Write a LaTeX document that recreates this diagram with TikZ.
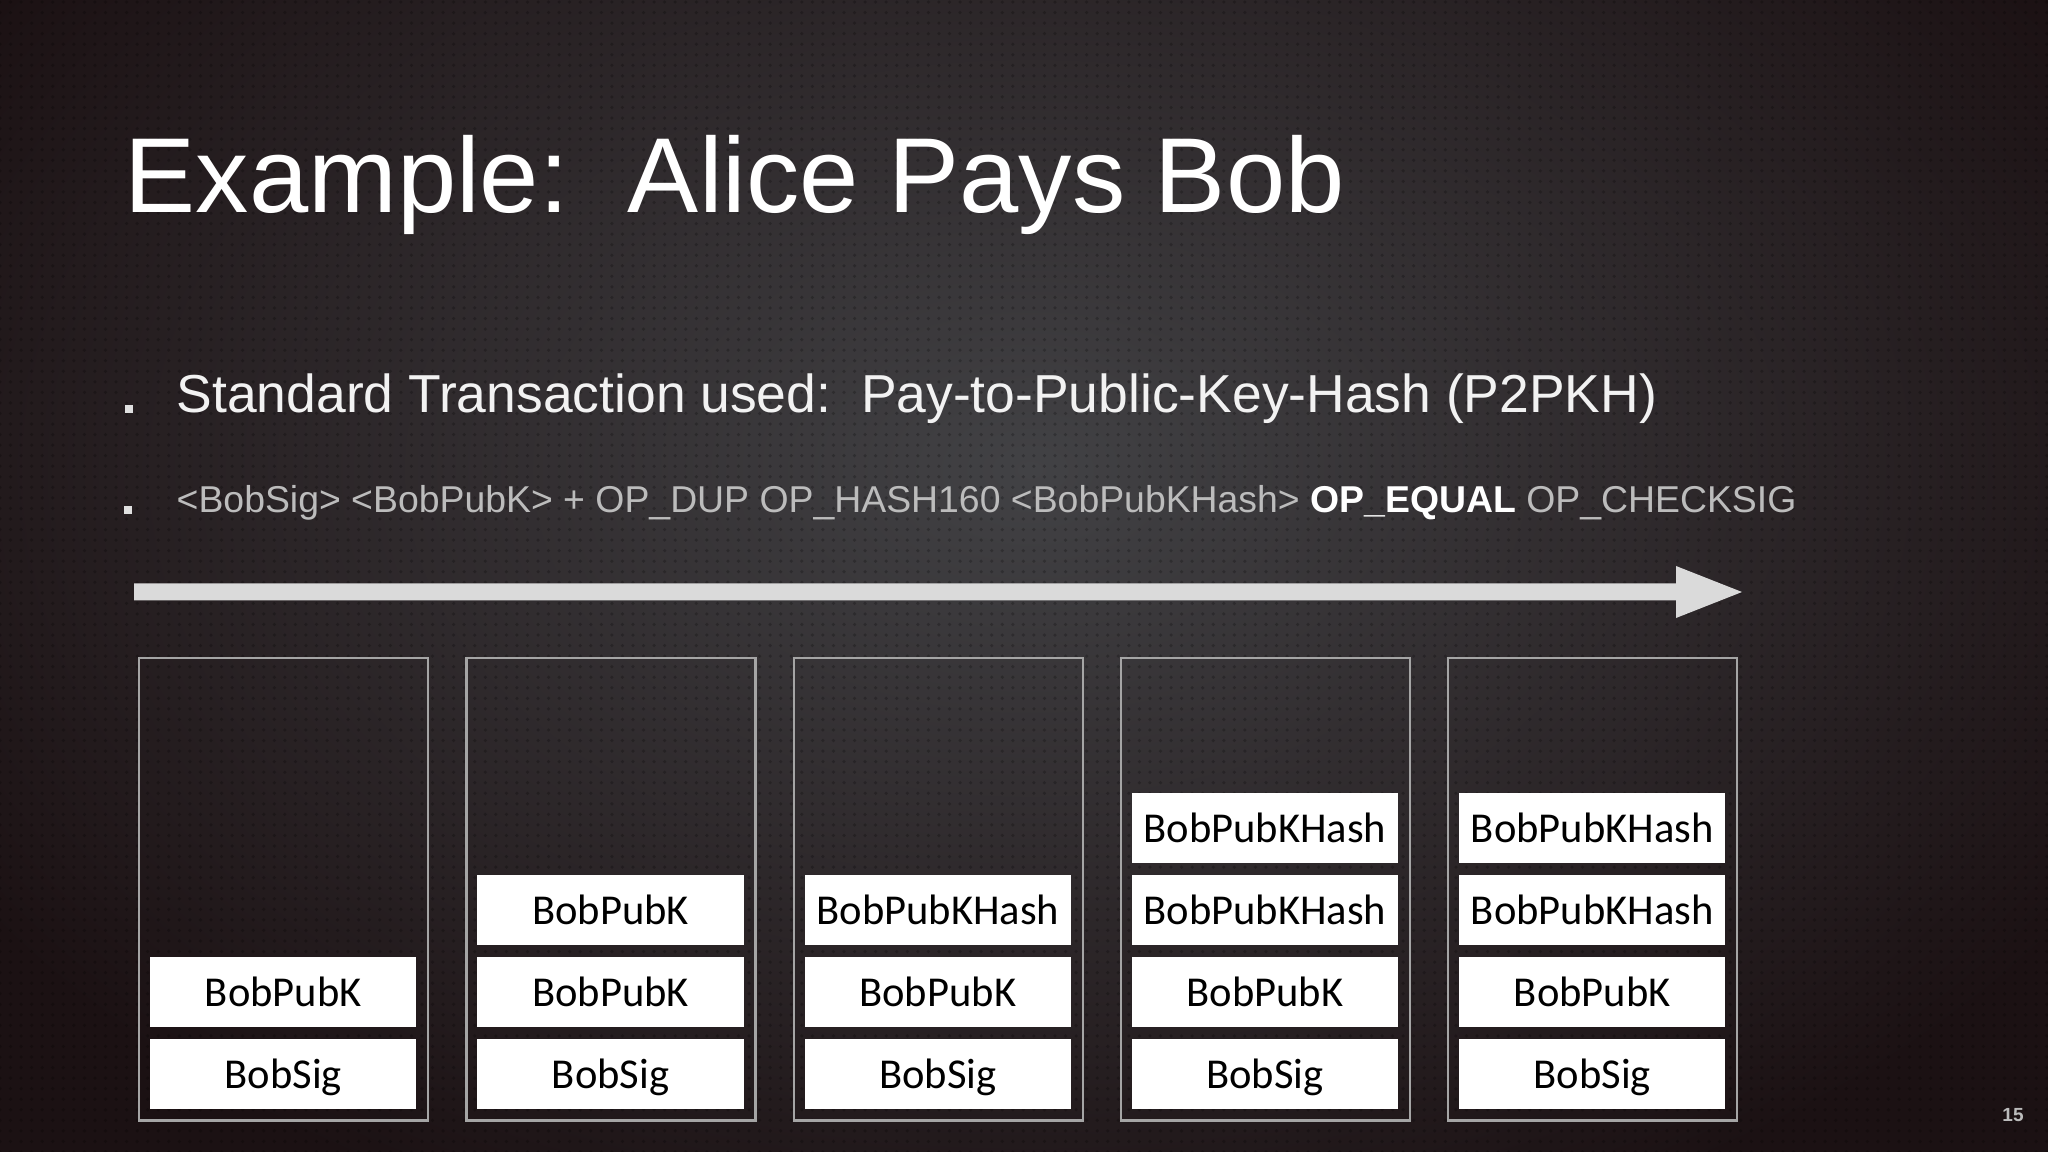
\documentclass[tikz,border=0pt]{standalone}
\usepackage{fontspec}
\setmainfont{Liberation Sans}
\newfontfamily\calib{Carlito}
\usetikzlibrary{patterns}
\definecolor{bgdark}{RGB}{27,17,19}
\definecolor{bglight}{RGB}{66,66,69}
\definecolor{arrowgray}{RGB}{218,218,218}
\definecolor{codegray}{RGB}{188,188,188}
\definecolor{framegray}{RGB}{165,165,165}
\begin{document}
\begin{tikzpicture}[x=0.01cm,y=-0.01cm,
  stackframe/.style={draw=framegray, line width=0.65pt, minimum width=2.89cm, minimum height=4.62cm, inner sep=0pt, anchor=north west},
  cell/.style={fill=white, minimum width=2.66cm, minimum height=0.70cm, inner sep=0pt, anchor=north west,
    font=\calib\fontsize{12.1}{13}\selectfont, text=black, text height=0.95em, text depth=0.12em},
  bulletmark/.style={fill=white!88!black, minimum size=0.075cm, inner sep=0pt}]
\useasboundingbox (0,0) rectangle (2048,1152);
% background
\fill[bgdark] (0,0) rectangle (2048,1152);
\begin{scope}
  \clip (0,0) rectangle (2048,1152);
  \shade[inner color=bglight, outer color=bgdark] (1030,470) ellipse [x radius=12.5cm, y radius=8.2cm];
  \fill[pattern=dots, pattern color=black, opacity=0.22] (0,0) rectangle (2048,1152);
\end{scope}
% title
\node[anchor=base west, inner sep=0pt, font=\fontsize{30.3}{32}\selectfont, text=white] (title) at (124,213) {Example:~~Alice Pays Bob};
% bullets
\node[bulletmark] (bul1) at (129,409) {};
\node[anchor=base west, inner sep=0pt, font=\fontsize{15.2}{17}\selectfont, text=white!95!black] (line1) at (176,413) {Standard Transaction used:~~Pay-to-Public-Key-Hash (P2PKH)};
\node[bulletmark] (bul2) at (128,510) {};
\node[anchor=base west, inner sep=0pt, font=\fontsize{10.63}{12}\selectfont, text=codegray] (line2) at (176,513) {<BobSig> <BobPubK> + OP\_DUP OP\_HASH160 <BobPubKHash> \textcolor{white}{\bfseries OP\_EQUAL} OP\_CHECKSIG};
% timeline arrow
\fill[arrowgray] (134,583.5) -- (1676,583.5) -- (1676,566) -- (1742,592) -- (1676,618) -- (1676,600.5) -- (134,600.5) -- cycle;
% stack frames and cells
\foreach \i/\L in {1/138,2/465.25,3/792.5,4/1119.75,5/1447}{
  \node[stackframe] (f\i) at (\L,657) {};
  \node[cell] (sig\i) at (\L+11.5,1038) {BobSig};
  \node[cell] (pk\i) at (\L+11.5,956) {BobPubK};
}
\node[cell] (pkb2) at (465.25+11.5,874) {BobPubK};
\node[cell] (h3) at (792.5+11.5,874) {BobPubKHash};
\node[cell] (h4) at (1119.75+11.5,874) {BobPubKHash};
\node[cell] (hb4) at (1119.75+11.5,792) {BobPubKHash};
\node[cell] (h5) at (1447+11.5,874) {BobPubKHash};
\node[cell] (hb5) at (1447+11.5,792) {BobPubKHash};
% page number
\node[font=\bfseries\fontsize{5.4}{6}\selectfont, text=codegray, inner sep=0pt] (pg) at (2013,1115) {15};
\end{tikzpicture}
\end{document}
